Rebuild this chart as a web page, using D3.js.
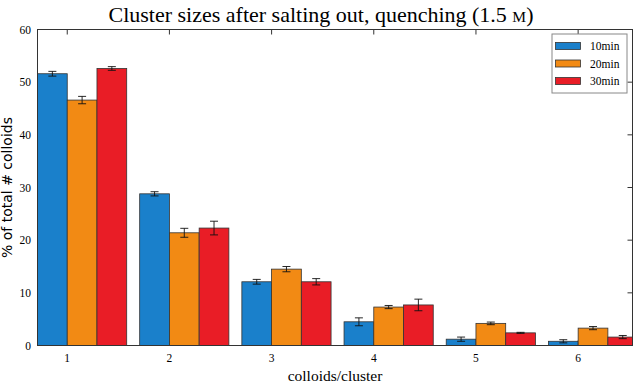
<!DOCTYPE html>
<html>
<head>
<meta charset="utf-8">
<script src="https://cdn.jsdelivr.net/npm/d3@7"></script>
<style>
body { margin: 0; background: #fff; }
text { font-family: "Liberation Serif", serif; }
</style>
</head>
<body>
<svg width="638" height="385"></svg>
<script>
// data
const clusters = [1, 2, 3, 4, 5, 6];
const series = ["10min", "20min", "30min"];
const colors = ["#1a80cb", "#f28a14", "#e91d26"];
const values = [
  [51.6, 28.8, 12.1, 4.5, 1.2, 0.8],
  [46.6, 21.4, 14.5, 7.3, 4.2, 3.3],
  [52.6, 22.3, 12.1, 7.7, 2.4, 1.6]
];
const errors = [
  [0.45, 0.4, 0.45, 0.75, 0.4, 0.3],
  [0.7, 0.85, 0.5, 0.3, 0.25, 0.3],
  [0.35, 1.3, 0.6, 1.1, 0.1, 0.3]
];
const yTicks = [0, 10, 20, 30, 40, 50, 60];

// ////////////////////////////////////////

const mLeft = 37.5, mRight = 632.5, mTop = 29.5, mBottom = 345.5;
const bw = 0.291; // bar width in cluster units

const x = d3.scaleLinear().domain([1 - bw, 6.532]).range([mLeft, mRight]);
const y = d3.scaleLinear().domain([0, 60]).range([mBottom, mTop]);

const svg = d3.select("svg");

svg.append("defs").append("clipPath").attr("id", "plot")
  .append("rect")
  .attr("x", mLeft).attr("y", mTop)
  .attr("width", mRight - mLeft).attr("height", mBottom - mTop);

// Title
const title = svg.append("text")
  .attr("x", 321).attr("y", 22)
  .attr("text-anchor", "middle")
  .style("font-size", "22px")
  .text("Cluster sizes after salting out, quenching (1.5 ");
title.append("tspan").style("font-size", "15.5px").text("M");
title.append("tspan").text(")");

// ticks (inward), all four sides
const g = svg.append("g");
g.selectAll(".yt").data(yTicks).enter().append("path")
  .attr("d", d => `M${mLeft},${y(d)}h5M${mRight},${y(d)}h-5`)
  .attr("stroke", "#333");
g.selectAll(".xt").data(clusters).enter().append("path")
  .attr("d", d => `M${x(d)},${mBottom}v-5M${x(d)},${mTop}v5`)
  .attr("stroke", "#333");

// Bars
const plot = svg.append("g").attr("clip-path", "url(#plot)");
series.forEach((s, si) => {
  const grp = plot.append("g");
  grp.selectAll("rect").data(clusters).enter().append("rect")
    .attr("x", d => x(d + (si - 1) * bw))
    .attr("width", d => x(d + si * bw) - x(d + (si - 1) * bw))
    .attr("y", (d, i) => y(values[si][i]))
    .attr("height", (d, i) => mBottom - y(values[si][i]))
    .attr("fill", colors[si])
    .attr("stroke", "#333")
    .attr("stroke-width", 0.8);

  // error bars
  grp.selectAll("path").data(clusters).enter().append("path")
    .attr("d", (d, i) => {
      const cx = x(d + (si - 0.5) * bw);
      const y1 = y(values[si][i] + errors[si][i]);
      const y0 = y(values[si][i] - errors[si][i]);
      return `M${cx - 4},${y1}h8M${cx},${y1}V${y0}M${cx - 4},${y0}h8`;
    })
    .attr("stroke", "#111")
    .attr("fill", "none")
    .attr("stroke-width", 0.9);
});

// frame
svg.append("rect")
  .attr("x", mLeft).attr("y", mTop)
  .attr("width", mRight - mLeft).attr("height", mBottom - mTop)
  .attr("fill", "none").attr("stroke", "#333");

// tick labels
svg.selectAll(".ylab").data(yTicks).enter().append("text")
  .attr("x", 31).attr("y", d => y(d) + 4)
  .attr("text-anchor", "end")
  .style("font-size", "11.5px")
  .text(d => d);

svg.selectAll(".xlab").data(clusters).enter().append("text")
  .attr("x", d => x(d)).attr("y", 362)
  .attr("text-anchor", "middle")
  .style("font-size", "11.5px")
  .text(d => d);

// axis titles
svg.append("text")
  .attr("x", (mLeft + mRight) / 2).attr("y", 381)
  .attr("text-anchor", "middle")
  .style("font-size", "15.5px")
  .text("colloids/cluster");

svg.append("text")
  .attr("transform", `translate(12,${(mTop + mBottom) / 2}) rotate(-90)`)
  .attr("text-anchor", "middle")
  .style("font-family", "'DejaVu Sans', sans-serif")
  .style("font-size", "14px")
  .text("% of total # colloids");

// Legend
const lg = svg.append("g").attr("transform", "translate(552,34)");
lg.append("rect")
  .attr("width", 75).attr("height", 59)
  .attr("fill", "#fff").attr("stroke", "#888");
series.forEach((s, si) => {
  lg.append("rect")
    .attr("x", 3.5).attr("y", 8.5 + si * 17.5)
    .attr("width", 25).attr("height", 7)
    .attr("fill", colors[si]).attr("stroke", "#333").attr("stroke-width", 0.8);
  lg.append("text")
    .attr("x", 38).attr("y", 16 + si * 17.5)
    .style("font-size", "11.5px")
    .text(s);
});
</script>
</body>
</html>
